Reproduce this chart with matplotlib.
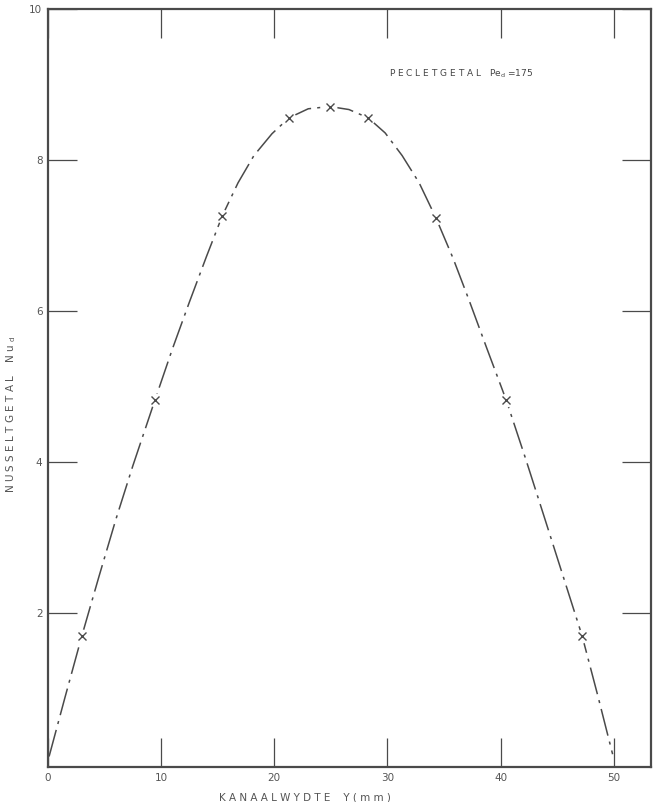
import matplotlib.pyplot as plt

# measured points (x markers)
y_mm = [3.0, 9.45, 15.4, 21.3, 24.9, 28.3, 34.3, 40.5, 47.2]
nu_d = [1.70, 4.82, 7.26, 8.56, 8.71, 8.56, 7.23, 4.82, 1.70]

# fitted curve
curve_x = [0.1, 1.5, 3.0, 4.5, 6.0, 7.5, 9.45, 11.0, 12.5, 14.0, 15.4,
           16.8, 18.2, 19.8, 21.3, 23.0, 24.9, 26.6, 28.3, 29.8, 31.3,
           32.8, 34.3, 35.8, 37.2, 38.8, 40.5, 42.2, 43.8, 45.5, 47.2,
           48.6, 49.9]
curve_y = [0.10, 0.88, 1.70, 2.48, 3.24, 3.95, 4.82, 5.50, 6.12, 6.72, 7.26,
           7.70, 8.06, 8.35, 8.56, 8.68, 8.71, 8.67, 8.56, 8.36, 8.06,
           7.70, 7.23, 6.70, 6.15, 5.50, 4.82, 4.05, 3.30, 2.50, 1.70,
           0.90, 0.13]

xticks = [0, 10, 20, 30, 40, 50]
yticks = [2, 4, 6, 8, 10]

ink = '#4a4a4a'
txt = '#555555'
plt.rcParams['font.family'] = ['DejaVu Sans']

fig = plt.figure(figsize=(6.57, 8.02), dpi=100)
ax = fig.add_axes([0.073, 0.0436, 0.918, 0.945])

ax.plot(curve_x, curve_y, color=ink, lw=1.1, ls=(0, (18, 4, 2, 4)), zorder=2)
# white halo so the line breaks around each marker, as in the drawing
ax.plot(y_mm, nu_d, 'o', color='white', ms=10, mew=0, zorder=3)
ax.plot(y_mm, nu_d, 'x', color=ink, ms=5.5, mew=1.0, zorder=4)

ax.set_xlim(0, 53.3)
ax.set_ylim(-0.04, 10)
ax.set_xticks(xticks)
ax.set_yticks(yticks)
ax.tick_params(direction='in', length=21, width=0.9, color=ink,
               labelsize=7.5, labelcolor=txt,
               top=True, right=True, pad=4)
for s in ax.spines.values():
    s.set_color(ink)
    s.set_linewidth(1.6)

ax.set_xlabel('K A N A A L W Y D T E    Y ( m m )', fontsize=7.5, color=txt)
ax.xaxis.set_label_coords(0.426, -0.034)
ax.set_ylabel(r'N U S S E L T G E T A L    N u $_\mathregular{d}$',
              fontsize=7.5, color=txt)
ax.yaxis.set_label_coords(-0.05, 0.465)
ax.text(30.1, 9.11, r'P E C L E T G E T A L   $\mathregular{Pe_d}$ =175',
        fontsize=6.5, color='#444444')

fig.savefig('out.png', dpi=100)
